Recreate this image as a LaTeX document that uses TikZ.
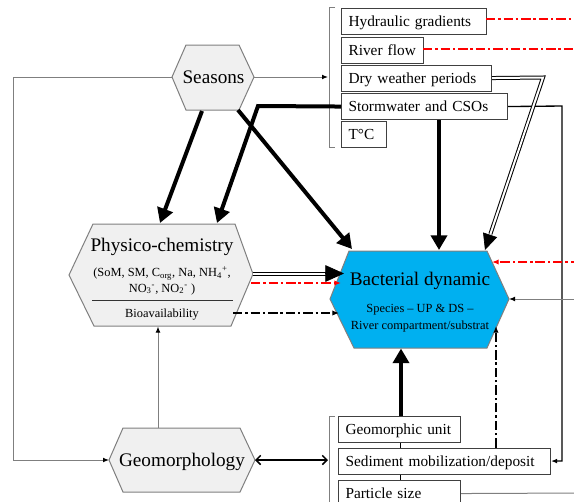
\documentclass[tikz,border=0pt]{standalone}
\usepackage{fontspec}
\setmainfont{Liberation Serif}
\usetikzlibrary{arrows.meta}
\definecolor{hexfill}{HTML}{F0F0F0}
\definecolor{hexedge}{HTML}{7F7F7F}
\definecolor{bactfill}{HTML}{00B0F0}
\definecolor{dashred}{HTML}{FF0000}
\definecolor{thingray}{HTML}{7F7F7F}
\begin{document}
\begin{tikzpicture}[x=0.75pt,y=-0.75pt,
  hexshape/.style={draw=hexedge, fill=hexfill, line width=0.75pt, line join=miter},
  bigtxt/.style={font=\fontsize{14.4}{17}\selectfont, inner sep=0pt, anchor=base},
  smalltxt/.style={font=\fontsize{9.3}{11.5}\selectfont, inner sep=0pt, anchor=base},
  lbox/.style={draw=black!75, line width=0.8pt, anchor=north west,
    font=\fontsize{11.5}{13}\selectfont, inner xsep=5.25pt, inner ysep=0pt,
    minimum height=19.5pt, text height=0.78em, text depth=0.03em, align=left},
  thinarr/.style={draw=thingray, line width=0.75pt, -{Latex[length=4.5pt,width=3.6pt,color=black]}},
  thickarr/.style={draw=black, line width=3pt, line join=miter, -{Triangle[length=11pt,width=12pt]}},
  dbl/.style={draw=black, double=white, double distance=1.5pt, line width=0.75pt, line join=miter},
  bigtip/.style={draw=black, line width=0.5pt, -{Triangle[length=12pt,width=11pt]}},
  reddash/.style={draw=dashred, line width=1.3pt, dash pattern=on 7pt off 2.2pt on 1.8pt off 2.2pt},
  blackdash/.style={draw=black, line width=0.9pt, dash pattern=on 7pt off 2.2pt on 1.8pt off 2.2pt},
  brack/.style={draw=thingray, line width=0.75pt}
]
\useasboundingbox (0,0) rectangle (574,501);
\clip (0,0) rectangle (574,501);

% ---------- hexagons ----------
\draw[hexshape] (172,77) -- (186,45) -- (239,45) -- (254,77) -- (239,110) -- (186,110) -- cycle;
\node[bigtxt] (seasons) at (213.5,83) {Seasons};

\draw[hexshape] (69,275) -- (93,224) -- (235,224) -- (253,274) -- (231,326) -- (94,326) -- cycle;
\draw[draw=black!80, line width=0.6pt] (92,300.7) -- (233,300.7);
\node[bigtxt] (physico) at (162,251) {Physico-chemistry};
\node[smalltxt] (physform1) at (162,276.7) {(SoM, SM, C\textsubscript{org}, Na, NH\textsubscript{4}\textsuperscript{+},};
\node[smalltxt] (physform2) at (162,292.3) {NO\textsubscript{3}\textsuperscript{-}, NO\textsubscript{2}\textsuperscript{-} )};
\node[smalltxt] (bioav) at (162,317.3) {Bioavailability};

\draw[draw=hexedge, fill=bactfill, line width=0.75pt, line join=miter]
  (330,299) -- (349,251) -- (487,251) -- (509,299) -- (487,348) -- (354,348) -- cycle;
\node[bigtxt] (bact) at (420,285) {Bacterial dynamic};
\node[smalltxt] (bactsub1) at (420,312.7) {Species -- UP \& DS --};
\node[smalltxt] (bactsub2) at (420,329) {River compartment/substrat};

\draw[hexshape] (109,460) -- (123,428) -- (240,428) -- (255,460) -- (240,492) -- (123,492) -- cycle;
\node[bigtxt] (geomorph) at (182,466.7) {Geomorphology};

% ---------- boxes ----------
\node[lbox, text width=98.25pt] (hyd) at (341,8) {Hydraulic gradients};
\node[lbox, text width=51pt] (river) at (341,36.5) {River flow};
\node[lbox, text width=102pt] (dry) at (341,64.5) {Dry weather periods};
\node[lbox, text width=114pt] (storm) at (341,93) {Stormwater and CSOs};
\node[lbox, text width=23.25pt] (tc) at (341,121) {T°C};

\node[lbox, text width=81pt] (geounit) at (338,416) {Geomorphic unit};
\node[lbox, text width=148.5pt] (sed) at (338,447.5) {Sediment mobilization/deposit};
\node[lbox, text width=81pt] (part) at (338,480) {Particle size};

% brackets
\draw[brack] (335,7) -- (329,7) -- (329,147) -- (335,147);
\draw[brack] (335,416) -- (329,416) -- (329,510);

% ---------- named points ----------
\coordinate (seaL) at (172,77);
\coordinate (seaR) at (254,77);
\coordinate (seaBL) at (202,111);
\coordinate (seaBR) at (238,110);
\coordinate (phyT1) at (160,223);
\coordinate (phyT2) at (217,223);
\coordinate (phyB) at (158,326.5);
\coordinate (bacTL) at (352,249);
\coordinate (bacT1) at (439,250);
\coordinate (bacT2) at (485,250);
\coordinate (bacL1) at (344,273.5);
\coordinate (bacL2) at (341,283);
\coordinate (bacL3) at (339,313);
\coordinate (bacR) at (509,299);
\coordinate (bacRT) at (492,262);
\coordinate (bacB) at (401,348.5);
\coordinate (bacBR) at (496,326);
\coordinate (geoL) at (109,460);
\coordinate (geoR) at (255,460);
\coordinate (geoT) at (158,428);
\coordinate (brU) at (328,77);
\coordinate (brD) at (328,460);
\coordinate (hydE) at (486,19);
\coordinate (hydFar) at (580,19);
\coordinate (rivE) at (423,49);
\coordinate (rivFar) at (580,49);
\coordinate (redFar) at (580,262);
\coordinate (grayFar) at (580,299);
\coordinate (partFar) at (580,493);

% ---------- connectors ----------
% Seasons
\draw[thinarr] (seaR) -- (brU);
\draw[thinarr] (seaL) -- (13,77) |- (geoL);
\draw[thickarr] (seaBL) -- (phyT1);
\draw[thickarr] (seaBR) -- (bacTL);

% Stormwater
\draw[thickarr] (storm.west) -- (258,106) -- (phyT2);
\draw[thickarr] (439,0 |- storm.south) -- (bacT1);
\draw[draw=black, line width=1pt, -{Latex[length=4.5pt,width=3.6pt]}] (storm.east) -- (562,106) |- (sed.east);

% Dry weather (double)
\draw[dbl] (dry.east) -- (543,77.5) -- (490.4,234);
\draw[bigtip] (490.1,234.8) -- (bacT2);

% red from hydraulic gradients and river flow
\draw[reddash] (hydE) -- (hydFar);
\draw[reddash] (rivE) -- (rivFar);
\draw[reddash, -{Latex[length=5pt,width=4pt]}] (redFar) -- (bacRT);
\draw[thinarr] (grayFar) -- (bacR);
\draw[draw=thingray, line width=0.75pt] (part.east) -- (partFar);

% Physico -> Bacterial
\draw[dbl] (253,273.5) -- (326,273.5);
\draw[draw=black, line width=0.5pt, -{Triangle[length=14pt,width=12.5pt]}] (325.3,273.5) -- (bacL1);
\draw[reddash, -{Latex[length=5pt,width=4pt]}] (251,283) -- (bacL2);
\draw[blackdash, -{Latex[length=5pt,width=4pt]}] (233,313) -- (bacL3);

% Geomorphology
\draw[thinarr] (geoT) -- (phyB);
\draw[draw=black, line width=1.1pt, {Straight Barb[length=3.5pt,width=7pt]}-{Straight Barb[length=3.5pt,width=7pt]}] (geoR) -- (brD);

% bottom boxes
\draw[draw=black, line width=0.6pt] (400,0 |- geounit.south) -- (400,0 |- sed.north);
\draw[draw=black, line width=0.6pt] (400,0 |- sed.south) -- (400,0 |- part.north);
\draw[thickarr] (401,0 |- geounit.north) -- (bacB);
\draw[blackdash, -{Latex[length=5pt,width=4pt]}] (496,0 |- sed.north) -- (bacBR);
\end{tikzpicture}
\end{document}
